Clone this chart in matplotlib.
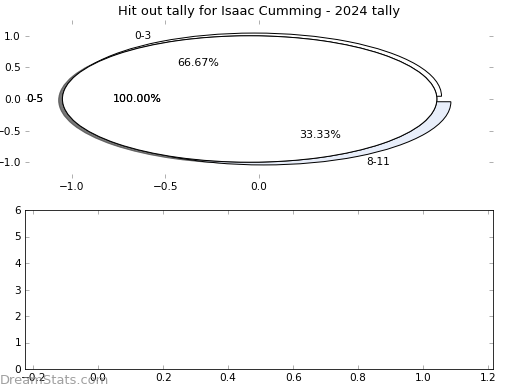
import matplotlib; matplotlib.use("Agg")
import matplotlib.pyplot as plt

# data
title = "Hit out tally for Isaac Cumming - 2024 tally"
outer_labels = ["0-3", "8-11"]
outer_vals = [2, 1]
outer_cols = ["#ffffff", "#e8eefa"]
inner_labels = ["0-5"]
inner_vals = [1]
inner_cols = ["#ffffff"]
top_xticks = [-1.0, -0.5, 0.0]
top_yticks = [-1.0, -0.5, 0.0, 0.5, 1.0]
bot_xticks = [-0.2, 0.0, 0.2, 0.4, 0.6, 0.8, 1.0, 1.2]
bot_yticks = [0, 1, 2, 3, 4, 5, 6]

DPI = 72
fig = plt.figure(figsize=(520/DPI, 390/DPI), dpi=DPI, facecolor="white")
plt.rcParams.update({"font.size": 10, "font.family": "DejaVu Sans"})
TC = "#b0b0b0"

a1 = fig.add_axes([25/520, 1-178/390, 468/520, 158/390])
a2 = fig.add_axes([25/520, 1-369/390, 468/520, 159/390])

wp = {"edgecolor": "black", "linewidth": 1.0}
_, _, at = a1.pie(outer_vals, labels=outer_labels, colors=outer_cols, explode=[0.05]*len(outer_vals),
                  autopct="%.2f%%", wedgeprops=wp, frame=True, textprops={"fontsize": 10.5})
for t in at: t.set_fontsize(11)
for _ in range(2):
    _, _, at = a1.pie(inner_vals, labels=inner_labels, colors=inner_cols, explode=[0.05]*len(inner_vals),
                      autopct="%.2f%%", wedgeprops=wp, shadow=True, frame=True, textprops={"fontsize": 10.5})
    for t in at: t.set_fontsize(11)
a1.set_aspect("auto")
a1.set_xlim(-1.25, 1.25); a1.set_ylim(-1.25, 1.25)
a1.set_xticks(top_xticks); a1.set_yticks(top_yticks)
for s in a1.spines.values(): s.set_visible(False)
a1.set_title(title, fontsize=13, pad=5)

a2.set_xlim(-0.225, 1.215); a2.set_ylim(0, 6)
a2.set_xticks(bot_xticks); a2.set_yticks(bot_yticks)

for a in (a1, a2):
    a.tick_params(direction="in", length=4, width=1, color=TC, top=True, right=True, labelsize=10.5, pad=4)

fig.text(0, 3/390, "DreamStats.com", fontsize=13, color="#888888", alpha=0.8, ha="left", va="bottom")
fig.savefig("out.png", dpi=DPI)
